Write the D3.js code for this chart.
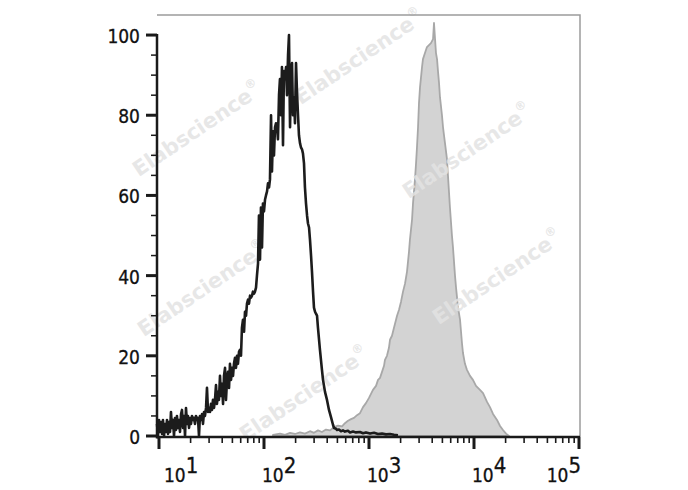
<!DOCTYPE html>
<html><head><meta charset="utf-8">
<script src="https://cdn.jsdelivr.net/npm/d3@7"></script>
<style>body{margin:0;background:#fff} svg{display:block}</style>
</head><body><svg id="c" width="688" height="490"></svg>
<script>
// ---- data (x: log10 fluorescence intensity, y: % of max count) ----
const blackExp = [0.981,0.990,1.000,1.010,1.019,1.029,1.038,1.048,1.057,1.067,1.076,1.086,1.095,1.105,1.114,1.124,1.133,1.143,1.152,1.162,1.171,1.181,1.190,1.200,1.210,1.219,1.229,1.238,1.248,1.257,1.267,1.276,1.286,1.295,1.305,1.314,1.324,1.333,1.343,1.352,1.362,1.371,1.381,1.390,1.400,1.410,1.419,1.429,1.438,1.448,1.457,1.467,1.476,1.486,1.495,1.505,1.514,1.524,1.533,1.543,1.552,1.562,1.571,1.581,1.590,1.600,1.610,1.619,1.629,1.638,1.648,1.657,1.667,1.676,1.686,1.695,1.705,1.714,1.724,1.733,1.743,1.752,1.762,1.771,1.781,1.790,1.800,1.810,1.819,1.829,1.838,1.848,1.857,1.867,1.876,1.886,1.895,1.905,1.914,1.924,1.933,1.943,1.952,1.962,1.971,1.981,1.990,2.000,2.010,2.019,2.029,2.038,2.048,2.057,2.067,2.076,2.086,2.095,2.105,2.114,2.124,2.133,2.143,2.152,2.162,2.171,2.181,2.190,2.200,2.210,2.219,2.229,2.238,2.248,2.257,2.267,2.276,2.286,2.295,2.305,2.314,2.324,2.333,2.343,2.352,2.362,2.371,2.381,2.390,2.400,2.410,2.419,2.429,2.438,2.448,2.457,2.467,2.476,2.486,2.495,2.505,2.514,2.533,2.552,2.562,2.581,2.600,2.619,2.638,2.657,2.667,2.686,2.695,2.714,2.733,2.752,2.771,2.800,2.819,2.848,2.876,2.914,2.943,2.971,3.010,3.048,3.086,3.124,3.162,3.200,3.238,3.276];
const blackCount = [3,0,4,1,3.5,0.5,4,0,3,1, 4,0.5,3.5,1,6,2,4,0,4.5,1.5, 5,2,4,1,5.5,6.5,2,5,0,7, 3,5,2,4.5,3,5,4,4.5,3,5, 4,4.5,0,5,4,5.5,3,6,5,7,
  12,6,7,6,8,6.5,9,7,9,12.7, 8,11,9,15,10,13,8,15,17,9, 14,16,12,18,14,17,15,18,19.5,17, 20,18,21,21.5,20,27,29,26,31,30, 33,34,33,35,34.5,35,36,35.5,36,37,
  40,43,55,44,57,47,58,56,59,60, 61,63,62,64,80,66,76,70,77,78, 77,74,85,89,80,92,72.5,91,89,92, 85,95,100,77,90,93,80,84.5,78,93, 86,80,75,73,72,71.5,70.5,68,62,58,
  55,53,52,49,45,41,36,32,31,30.5,30,27,
  21.5,16.5,14,11,9,6.5,4.7,2.8,2,1.8,1.5,1.6,1.2,1.4,1.1,1.3,0.9,1.1,0.9,1.0,0.7,0.9,0.6,0.8,0.5,0.6,0.4,0.5,0.3,0.2];
const grayExp = [2.086,2.152,2.200,2.248,2.295,2.343,2.390,2.438,2.476,2.514,2.552,2.590,2.629,2.667,2.705,2.743,2.771,2.800,2.829,2.857,2.886,2.914,2.943,2.971,3.000,3.019,3.038,3.067,3.086,3.105,3.124,3.143,3.152,3.171,3.190,3.200,3.219,3.238,3.267,3.286,3.305,3.324,3.343,3.362,3.381,3.390,3.410,3.419,3.438,3.448,3.457,3.467,3.476,3.486,3.505,3.514,3.533,3.552,3.571,3.590,3.610,3.619,3.629,3.638,3.648,3.657,3.667,3.676,3.695,3.705,3.724,3.743,3.752,3.771,3.790,3.800,3.819,3.829,3.848,3.867,3.886,3.895,3.914,3.933,3.962,3.990,4.019,4.057,4.086,4.124,4.152,4.181,4.219,4.248,4.276,4.305,4.333];
const grayCount = [0.3,0.6,0.3,0.8,0.5,0.9,0.6,1.2,0.8,1.4, 1.0,1.6,1.4,2.2,2.6,2.4,3.2,3.8,4.2,4.5, 5.2,5.7,7.2,8.2,9.5,10.5,11.5,12.5,14,14.5, 16,17.5,19,20,22,24,25,27,30,31.5, 33.5,36,38,41,46,49,54,58,64,68, 72,77,83,87,92,94,95.5,97,97.5,98, 99,103,99,95.5,94,91,88,84.5,80,77, 73,69,65,57,50,47,40,37,32,29, 23,20.7,18,16.5,15,14,12.5,11.5,10.7,8.5, 7.2,5.5,4,2.5,1.5,0.6,0];
const yMajorTicks = [0,20,40,60,80,100];
const yMinorTicks = [5,10,15,25,30,35,45,50,55,65,70,75,85,90,95];
const xDecades = [1,2,3,4,5];
const xMinorMult = [2,3,4,5,6,7,8,9];
const watermarkWord = "Elabscience";
const watermarkMark = "®";

if (blackExp.length !== blackCount.length) throw new Error("black " + blackExp.length + " vs " + blackCount.length);
if (grayExp.length !== grayCount.length) throw new Error("gray " + grayExp.length + " vs " + grayCount.length);

const FONT = "'DejaVu Sans Condensed','DejaVu Sans',sans-serif";
const svg = d3.select('#c');
const x = d3.scaleLog().domain([Math.pow(10, 0.981), 1e5]).range([157, 579]);
const y = d3.scaleLinear().domain([0, 105]).range([436, 15]);

// gray (stained) histogram
const grayData = grayExp.map((e, i) => ({v: Math.pow(10, e), c: grayCount[i]}));
svg.append('path').datum(grayData)
  .attr('d', d3.area().x(d => x(d.v)).y0(y(0)).y1(d => y(d.c)))
  .attr('fill', '#d3d3d3').attr('stroke', '#a8a8a8').attr('stroke-width', 1.8).attr('stroke-linejoin', 'round');

// watermarks
const wm = [[360,58],[198,130],[468,152],[203,290],[498,278],[305,395]];
const wt = svg.append('g').selectAll('text').data(wm).join('text')
  .attr('transform', d => `translate(${d[0]},${d[1]}) rotate(-34)`)
  .attr('text-anchor', 'middle').attr('dominant-baseline', 'middle')
  .attr('font-family', "'DejaVu Sans',sans-serif").attr('font-weight', 'bold').attr('font-size', 21)
  .attr('fill', '#e3e3e3').attr('fill-opacity', 0.85);
wt.append('tspan').text(watermarkWord);
wt.append('tspan').attr('font-size', 12).attr('dy', -9).text(watermarkMark);

// black (control) histogram
const blackData = blackExp.map((e, i) => ({v: Math.pow(10, e), c: blackCount[i]}));
svg.append('path').datum(blackData)
  .attr('d', d3.line().x(d => x(d.v)).y(d => y(d.c)))
  .attr('fill', 'none').attr('stroke', '#1c1c1c').attr('stroke-width', 2.6).attr('stroke-linejoin', 'round');

// frame (top / right)
const x0 = x.range()[0], x1 = x.range()[1] + 1;
svg.append('path').attr('d', `M${x0},${y.range()[1]}H${x1}V${y(0) + 1}`)
  .attr('fill', 'none').attr('stroke', '#9c9c9c').attr('stroke-width', 1.5);

// y axis
svg.append('line').attr('x1', x0).attr('x2', x0).attr('y1', y(100) - 1).attr('y2', y(0) + 2.5)
  .attr('stroke', '#1a1a1a').attr('stroke-width', 2.5);
svg.append('g').selectAll('line').data(yMajorTicks).join('line')
  .attr('x1', x0 - 11).attr('x2', x0).attr('y1', d => y(d)).attr('y2', d => y(d))
  .attr('stroke', '#1a1a1a').attr('stroke-width', 3);
svg.append('g').selectAll('line').data(yMinorTicks).join('line')
  .attr('x1', x0 - 6).attr('x2', x0).attr('y1', d => y(d)).attr('y2', d => y(d))
  .attr('stroke', '#1a1a1a').attr('stroke-width', 1.5);
svg.append('g').selectAll('text').data(yMajorTicks).join('text')
  .attr('x', x0 - 17).attr('y', d => y(d) + 8)
  .attr('text-anchor', 'end').attr('font-family', FONT).attr('font-size', 19).attr('fill', '#111')
  .attr('stroke', '#111').attr('stroke-width', 0.3)
  .text(d => d);

// x axis
const yAx = y(0) + 1;
svg.append('line').attr('x1', x0).attr('x2', x1).attr('y1', yAx).attr('y2', yAx)
  .attr('stroke', '#1a1a1a').attr('stroke-width', 2.5);
const minors = [];
xDecades.slice(0, -1).forEach(dd => xMinorMult.forEach(m => minors.push(m * Math.pow(10, dd))));
svg.append('g').selectAll('line').data(minors).join('line')
  .attr('x1', d => x(d)).attr('x2', d => x(d)).attr('y1', yAx).attr('y2', yAx + 6)
  .attr('stroke', '#1a1a1a').attr('stroke-width', 1.6);
svg.append('g').selectAll('line').data(xDecades).join('line')
  .attr('x1', d => x(Math.pow(10, d))).attr('x2', d => x(Math.pow(10, d))).attr('y1', yAx).attr('y2', yAx + 12)
  .attr('stroke', '#1a1a1a').attr('stroke-width', 3);

const labG = svg.append('g');
xDecades.forEach(dd => {
  const px = x(Math.pow(10, dd));
  const t = labG.append('text').attr('y', 482).attr('font-family', FONT).attr('fill', '#111')
    .attr('stroke', '#111').attr('stroke-width', 0.3);
  t.append('tspan').attr('font-size', 19).text('10');
  t.append('tspan').attr('font-size', 22).attr('dy', -9).text(dd);
  const w = t.node().getComputedTextLength();
  let sx = Math.max(px - 2, x0 + 7);
  if (sx + w > x1 + 1) sx = x1 + 1 - w;
  t.attr('x', sx);
});
</script>
</body></html>
